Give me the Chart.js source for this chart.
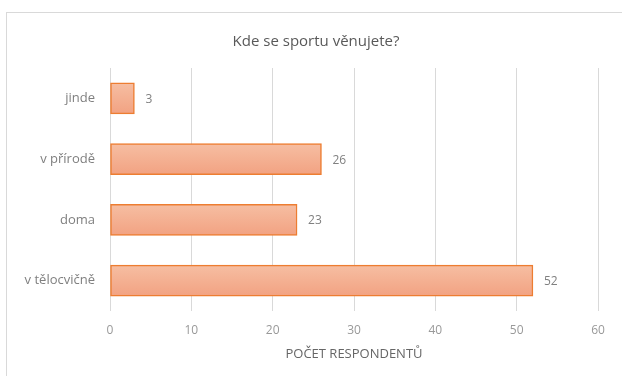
<!DOCTYPE html>
<html>
<head>
<meta charset="utf-8">
<script src="https://cdn.jsdelivr.net/npm/chart.js@4"></script>
<style>
  html, body { margin: 0; padding: 0; background: #fff; }
  #wrap { position: relative; width: 622px; height: 376px; overflow: hidden; }
  #frame { position: absolute; left: 6px; top: 12px; width: 700px; height: 500px; border: 1px solid #d9d9d9; }
  #chart { position: absolute; left: 0; top: 0; }
</style>
</head>
<body>
<div id="wrap">
  <div id="frame"></div>
  <canvas id="chart" width="622" height="376"></canvas>
</div>
<script>
// ---- data ----
const categories = ["jinde", "v přírodě", "doma", "v tělocvičně"];
const counts     = [3, 26, 23, 52];
const xTicks     = [0, 10, 20, 30, 40, 50, 60];
const chartTitle = "Kde se sportu věnujete?";

const FONT = "'Open Sans', sans-serif";
const BAR_H = 31;

// chart title, centred on the whole frame rather than the plot
const frameTitle = {
    id: "frameTitle",
    afterDraw(chart) {
        const ctx = chart.ctx;
        ctx.save();
        ctx.font = "15px " + FONT;
        ctx.fillStyle = "#595959";
        ctx.textAlign = "center";
        ctx.textBaseline = "middle";
        ctx.fillText(chartTitle, 316, 42);
        ctx.restore();
    }
};

// value labels at the end of each bar
const endLabels = {
    id: "endLabels",
    afterDatasetsDraw(chart) {
        const ctx  = chart.ctx;
        const meta = chart.getDatasetMeta(0);
        ctx.save();
        ctx.font = "12px " + FONT;
        ctx.fillStyle = "#808080";
        ctx.textAlign = "left";
        ctx.textBaseline = "middle";
        meta.data.forEach((bar, i) => {
            ctx.fillText(String(counts[i]), bar.x + 11, bar.y + 1);
        });
        ctx.restore();
    }
};

// soft vertical gradient inside each bar
function barFill(context) {
    const chart = context.chart;
    const yScale = chart.scales && chart.scales.y;
    if (!chart.chartArea || !yScale || context.dataIndex === undefined) return "#f4b08e";
    const cy = yScale.getPixelForValue(context.dataIndex);
    if (!isFinite(cy)) return "#f4b08e";
    const g = chart.ctx.createLinearGradient(0, cy - BAR_H / 2, 0, cy + BAR_H / 2);
    g.addColorStop(0, "#f6bea2");
    g.addColorStop(1, "#f2a282");
    return g;
}

new Chart(document.getElementById("chart"), {
    type: "bar",
    data: {
        labels: categories,
        datasets: [{
            data: counts,
            backgroundColor: barFill,
            borderColor: "#ed7d31",
            borderWidth: 1.5,
            borderSkipped: false,
            barThickness: BAR_H
        }]
    },
    options: {
        indexAxis: "y",
        responsive: false,
        animation: false,
        layout: { padding: { left: 0, right: 24, top: 68, bottom: 0 } },
        plugins: {
            legend: { display: false },
            tooltip: { enabled: false },
            title: { display: false }
        },
        scales: {
            x: {
                min: 0,
                max: 60,
                afterBuildTicks(scale) {
                    scale.ticks = xTicks.map(v => ({ value: v }));
                },
                afterFit(scale) { scale.height = 65; },
                grid: { color: "#d9d9d9", drawTicks: false, lineWidth: 1 },
                border: { display: false },
                ticks: {
                    color: "#999999",
                    font: { family: FONT, size: 12 },
                    padding: 12
                },
                title: {
                    display: true,
                    text: "POČET RESPONDENTŮ",
                    color: "#666666",
                    font: { family: FONT, size: 13 },
                    padding: { top: 0, bottom: 14 }
                }
            },
            y: {
                afterFit(scale) { scale.width = 110; },
                grid: { display: false, drawTicks: false },
                border: { display: false },
                ticks: {
                    color: "#7f7f7f",
                    font: { family: FONT, size: 13 },
                    padding: 15
                }
            }
        }
    },
    plugins: [endLabels, frameTitle]
});
</script>
</body>
</html>
